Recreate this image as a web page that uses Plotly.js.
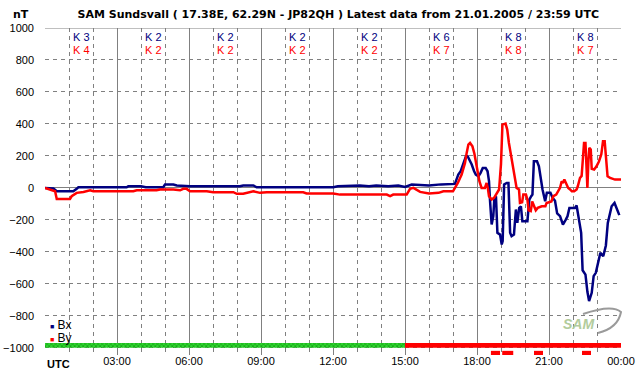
<!DOCTYPE html>
<html><head><meta charset="utf-8">
<script src="https://cdn.plot.ly/plotly-3.0.1.min.js"></script>
<style>html,body{margin:0;padding:0;background:#fff}#chart{width:642px;height:376px}</style>
</head><body><div id="chart"></div>
<script>
// ---- data (hours UTC, nT) ----
const hoursBx = [0.00,0.35,0.49,1.18,1.32,1.39,3.40,3.47,4.00,4.20,4.93,5.00,5.35,5.49,6.04,8.12,8.26,8.68,8.82,12.01,12.20,13.12,13.50,13.80,14.30,14.72,15.00,15.28,16.00,16.50,17.08,17.15,17.22,17.32,17.43,17.54,17.61,17.68,17.78,17.88,17.95,18.06,18.15,18.24,18.36,18.44,18.50,18.54,18.61,18.68,18.72,18.79,18.85,18.96,19.03,19.07,19.13,19.24,19.31,19.38,19.44,19.54,19.62,19.68,19.76,19.83,19.89,20.10,20.18,20.26,20.31,20.37,20.50,20.58,20.67,20.73,20.84,20.91,21.06,21.15,21.25,21.34,21.46,21.58,21.70,21.77,21.85,22.08,22.15,22.25,22.34,22.40,22.52,22.60,22.67,22.78,22.86,22.95,23.04,23.14,23.26,23.37,23.45,23.52,23.61,23.73,23.83,23.93];
const bx = [0,-4,-21,-21,-6,4,4,10,10,4,4,21,21,15,10,10,15,15,4,4,10,15,10,15,10,15,6,21,15,22,25,52,83,104,146,198,198,177,146,104,83,73,94,125,125,104,42,-73,-229,-177,-73,-52,-281,-292,-354,-333,21,31,31,-281,-302,-292,-135,-219,-125,-115,-208,-208,-73,-52,-42,167,167,135,31,-10,-83,-31,-31,-62,-80,-160,-177,-229,-198,-177,-125,-125,-110,-205,-281,-515,-542,-650,-708,-656,-552,-531,-469,-406,-427,-360,-219,-167,-115,-94,-130,-170];

const hoursBy = [0.00,0.21,0.42,0.49,1.04,1.11,1.32,1.60,1.88,2.01,3.68,3.82,4.65,4.79,5.35,5.63,5.76,5.90,6.04,6.74,7.01,7.85,7.99,8.26,8.54,8.68,8.96,9.24,10.76,10.90,12.01,12.29,14.24,14.38,14.51,15.07,15.21,15.35,15.63,16.00,16.40,16.60,17.00,17.08,17.20,17.36,17.50,17.57,17.64,17.71,17.81,17.89,17.96,18.03,18.10,18.19,18.33,18.40,18.45,18.50,18.61,18.71,18.82,18.92,19.00,19.06,19.19,19.26,19.33,19.42,19.49,19.58,19.65,19.75,19.79,19.88,19.93,20.04,20.10,20.15,20.24,20.30,20.38,20.45,20.53,20.70,20.85,20.90,21.10,21.18,21.30,21.40,21.46,21.53,21.58,21.64,21.70,21.80,21.88,21.95,22.05,22.15,22.20,22.29,22.36,22.42,22.46,22.52,22.56,22.60,22.64,22.68,22.74,22.78,22.88,22.98,23.08,23.18,23.25,23.32,23.37,23.44,23.55,23.75,24.00];
const by = [0,-10,-21,-69,-69,-52,-31,-25,-15,-21,-21,-15,-15,-10,-10,-15,-6,-6,-21,-21,-27,-27,-37,-37,-27,-21,-31,-27,-27,-35,-35,-42,-42,-52,-42,-42,-6,0,-25,-35,-31,-21,-21,0,31,83,156,219,271,281,260,215,156,115,42,0,0,31,0,-52,-73,-62,-31,-10,150,396,402,365,281,198,135,52,0,-10,-94,-90,-42,-42,-73,-140,-145,-85,-110,-140,-125,-115,-115,-94,-85,-52,-42,-10,0,42,31,52,31,0,-10,-21,-21,-10,10,62,75,200,281,281,140,0,160,250,240,120,115,135,165,210,292,292,200,73,62,52,52];

const kBlockStart = [0,3,6,9,12,15,18,21];
const kBx = [3,2,2,2,2,6,8,8];
const kBy = [4,2,2,2,2,7,8,7];

const tickHours = [0,3,6,9,12,15,18,21,24];
const tickLabels = ['UTC','03:00','06:00','09:00','12:00','15:00','18:00','21:00','00:00'];

const statusStart = [0,15];
const statusEnd = [15,24];
const statusState = ['quiet','disturbed'];

const alarmStart = [18.58,19.05,20.375,22.375];
const alarmEnd = [18.96,19.51,20.75,22.75];

const titleText = 'SAM Sundsvall ( 17.38E, 62.29N - JP82QH ) Latest data from 21.01.2005 / 23:59 UTC';

// ---- styles ----
const FONT = 'Liberation Sans, Arial, sans-serif';
const TFONT = 'DejaVu Sans, Verdana, sans-serif';
const NAVY = '#000080', RED = '#ff0000', GRID = '#808080';
const BAND = 30;      // status band thickness (nT)
const Y0 = -1000;

const traces = [];
traces.push({x: hoursBx, y: bx, type: 'scatter', mode: 'lines', name: 'Bx',
  line: {color: NAVY, width: 2.5}, hoverinfo: 'skip'});
traces.push({x: hoursBy, y: by, type: 'scatter', mode: 'lines', name: 'By',
  line: {color: RED, width: 2.5}, hoverinfo: 'skip'});

statusStart.forEach((s, i) => {
  const quiet = statusState[i] === 'quiet';
  traces.push({type: 'bar', x: [(s + statusEnd[i]) / 2], width: [statusEnd[i] - s],
    base: [Y0], y: [BAND], hoverinfo: 'skip',
    marker: quiet ? {color: '#22c022', line: {width: 0},
      pattern: {shape: 'x', fgcolor: '#0b8f0b', bgcolor: '#2fd52f', size: 3, solidity: 0.35}}
      : {color: RED, line: {width: 0}}});
});
traces.push({type: 'bar', x: alarmStart.map((s, i) => (s + alarmEnd[i]) / 2),
  width: alarmStart.map((s, i) => alarmEnd[i] - s),
  base: alarmStart.map(() => Y0 - 19), y: alarmStart.map(() => -26),
  marker: {color: RED, line: {width: 0}}, hoverinfo: 'skip'});

const ann = [];
kBlockStart.forEach((s, i) => {
  ann.push({x: s + 1.5, y: 945, xref: 'x', yref: 'y', text: 'K ' + kBx[i], showarrow: false,
    font: {family: FONT, size: 11, color: NAVY}, xanchor: 'center', yanchor: 'middle'});
  ann.push({x: s + 1.5, y: 863, xref: 'x', yref: 'y', text: 'K ' + kBy[i], showarrow: false,
    font: {family: FONT, size: 11, color: RED}, xanchor: 'center', yanchor: 'middle'});
});
ann.push({x: 0, y: 0, xref: 'paper', yref: 'paper', xanchor: 'left', yanchor: 'top', yshift: -1,
  text: '<b>' + tickLabels[0] + '</b>', showarrow: false, font: {family: FONT, size: 11, color: '#000'}});
ann.push({x: -0.0417, y: 1.0428, xref: 'paper', yref: 'paper', xanchor: 'center', yanchor: 'middle',
  text: '<b>nT</b>', showarrow: false, font: {family: TFONT, size: 11, color: '#000'}});
[['Bx', NAVY, 0.0917], ['By', RED, 0.052]].forEach(([n, c, yy]) => {
  ann.push({x: 0.005, y: yy, xref: 'paper', yref: 'paper', xanchor: 'left', yanchor: 'middle',
    text: '<span style="color:' + c + ';font-size:7px">■</span> ' + n, showarrow: false,
    font: {family: FONT, size: 12, color: '#000'}});
});
ann.push({x: 0.927, y: 0.096, xref: 'paper', yref: 'paper', xanchor: 'center', yanchor: 'middle',
  text: '<b><i>SAM</i></b>', showarrow: false, font: {family: FONT, size: 14, color: '#b2cc9c'}});

const px = v => (v - 45) / 576, py = v => (355 - v) / 327;
const layout = {
  width: 642, height: 376, paper_bgcolor: '#fff', plot_bgcolor: '#fff',
  margin: {l: 45, r: 21, t: 28, b: 21, pad: 0},
  showlegend: false, barmode: 'overlay',
  title: {text: '<b>' + titleText + '</b>', x: 0.527, xref: 'container', xanchor: 'center',
    y: 1 - 14 / 376, yref: 'container', yanchor: 'middle',
    font: {family: TFONT, size: 11, color: '#000'}},
  xaxis: {range: [0, 24], tickmode: 'array', tickvals: tickHours,
    ticktext: tickLabels.map((t, i) => i === 0 ? '' : t),
    showgrid: true, gridcolor: GRID, gridwidth: 1, zeroline: false, showline: false,
    ticks: '', ticklabelstandoff: -2,
    tickfont: {family: FONT, size: 11, color: '#000'},
    minor: {tickmode: 'linear', tick0: 0, dtick: 1, showgrid: true, gridcolor: GRID, griddash: '4px,4px', gridwidth: 1},
    fixedrange: true},
  yaxis: {range: [-1045, 1000], tickmode: 'linear', tick0: -1000, dtick: 200,
    showgrid: true, gridcolor: GRID, griddash: '4px,4px', gridwidth: 1,
    zeroline: true, zerolinecolor: GRID, zerolinewidth: 1, showline: false,
    ticks: '', ticklabelstandoff: 10,
    tickfont: {family: FONT, size: 11, color: '#000'}, fixedrange: true},
  shapes: [
    {type: 'line', xref: 'paper', yref: 'y', x0: 0, x1: 1, y0: 1000, y1: 1000,
      line: {color: GRID, width: 1}, layer: 'below'},
    {type: 'path', xref: 'paper', yref: 'paper',
      path: 'M ' + px(583) + ' ' + py(314) + ' Q ' + px(612) + ' ' + py(304) + ' ' + px(621) + ' ' + py(312) +
            ' Q ' + px(618) + ' ' + py(328) + ' ' + px(598) + ' ' + py(333),
      line: {color: '#9a9a9a', width: 2}, layer: 'above'}
  ],
  annotations: ann
};

Plotly.newPlot('chart', traces, layout, {displayModeBar: false, staticPlot: true});
</script></body></html>
